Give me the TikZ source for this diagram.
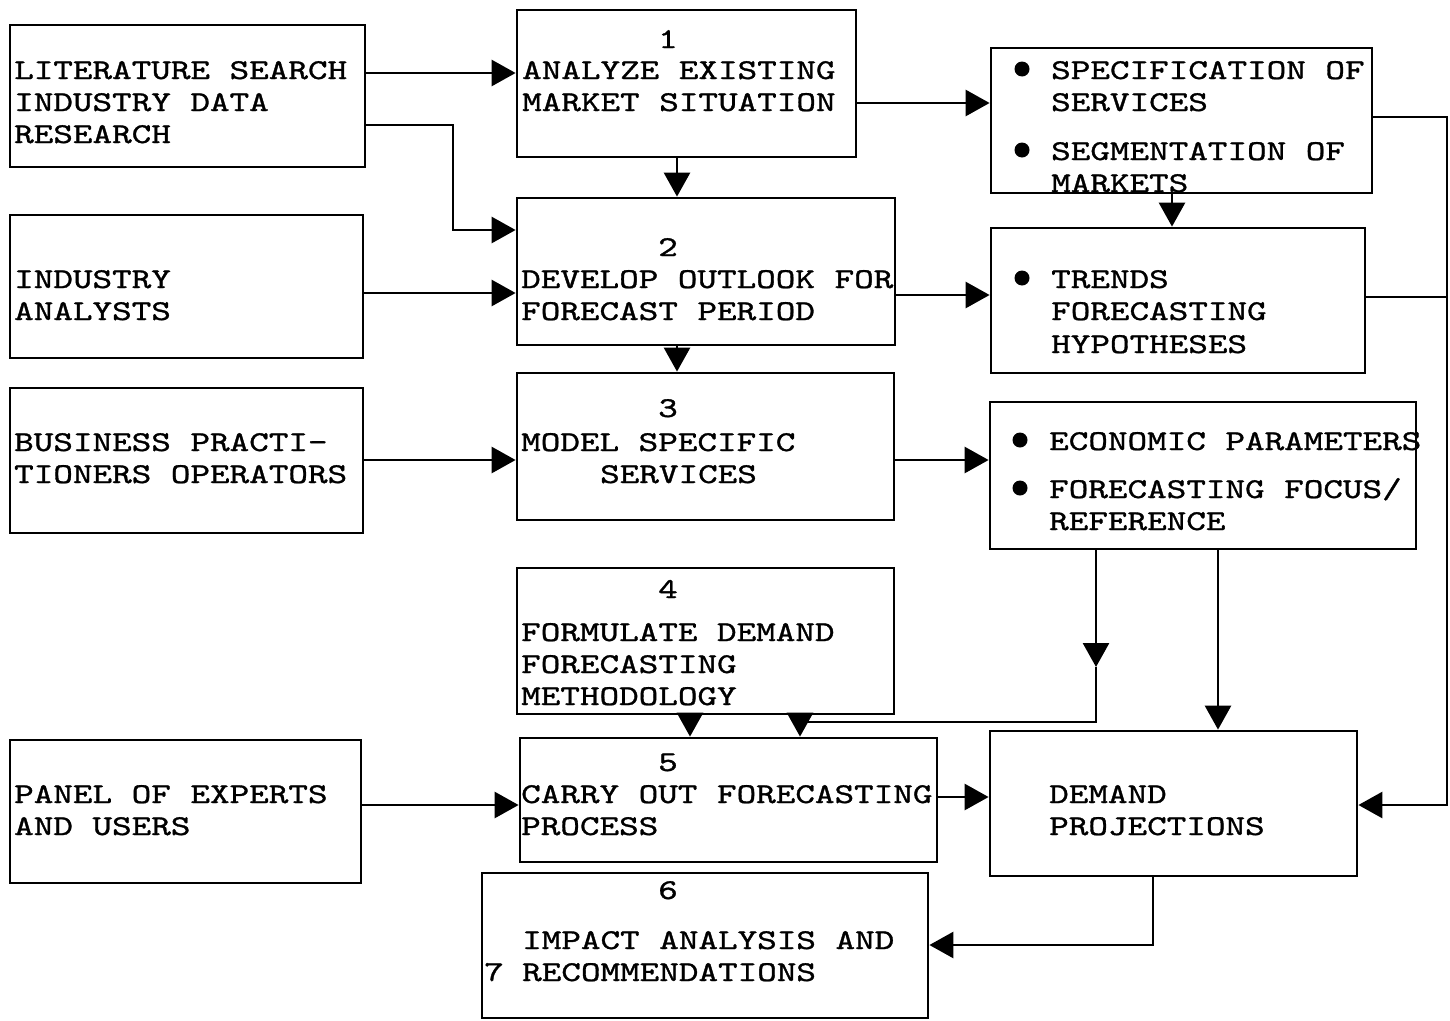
\documentclass[tikz,border=0pt]{standalone}
\usepackage{fontspec}
\newfontfamily\tw[FakeStretch=1.3,FakeBold=1.2]{lmmono10-regular.otf}
\usetikzlibrary{arrows.meta}
\begin{document}
\begin{tikzpicture}[x=1pt,y=-1pt,
  box/.style={draw,line width=2.8pt,inner sep=0pt,rectangle},
  txt/.style={inner sep=0pt,anchor=base west,font=\tw\fontsize{28.7}{32}\selectfont},
  num/.style={inner sep=0pt,anchor=base,font=\tw\fontsize{28.7}{32}\selectfont},
  conn/.style={line width=2.8pt},
  arr/.style={line width=2.8pt,-{Triangle[length=24pt,width=26pt]}},
  dotb/.style={fill=black}]
\useasboundingbox (0,0) rectangle (1450,1020);
% boxes
\node[box,minimum width=355pt,minimum height=142pt] (A) at (187.5,96) {};
\node[box,minimum width=353pt,minimum height=143pt] (B) at (186.5,286.5) {};
\node[box,minimum width=353pt,minimum height=145pt] (C) at (186.5,460.5) {};
\node[box,minimum width=351pt,minimum height=143pt] (D) at (185.5,811.5) {};
\node[box,minimum width=339pt,minimum height=147pt] (N1) at (686.5,83.5) {};
\node[box,minimum width=378pt,minimum height=147pt] (N2) at (706,271.5) {};
\node[box,minimum width=377pt,minimum height=147pt] (N3) at (705.5,446.5) {};
\node[box,minimum width=377pt,minimum height=146pt] (N4) at (705.5,641) {};
\node[box,minimum width=417pt,minimum height=124pt] (N5) at (728.5,800) {};
\node[box,minimum width=446pt,minimum height=145pt] (N6) at (705,945.5) {};
\node[box,minimum width=381pt,minimum height=145pt] (R1) at (1181.5,120.5) {};
\node[box,minimum width=374pt,minimum height=145pt] (R2) at (1178,300.5) {};
\node[box,minimum width=426pt,minimum height=147pt] (R3) at (1203,475.5) {};
\node[box,minimum width=367pt,minimum height=145pt] (DP) at (1173.5,803.5) {};
% texts
\node[txt] (a1) at (14,79) {LITERATURE SEARCH};
\node[txt] (a2) at (14,111) {INDUSTRY DATA};
\node[txt] (a3) at (14,143) {RESEARCH};
\node[txt] (b1) at (14,288) {INDUSTRY};
\node[txt] (b2) at (14,320) {ANALYSTS};
\node[txt] (c1) at (14,451) {BUSINESS PRACTI-};
\node[txt] (c2) at (14,483) {TIONERS OPERATORS};
\node[txt] (d1) at (14,803) {PANEL OF EXPERTS};
\node[txt] (d2) at (14,835) {AND USERS};
\node[num] (n1n) at (668,48) {1};
\node[txt] (n1a) at (522,79) {ANALYZE EXISTING};
\node[txt] (n1b) at (522,111) {MARKET SITUATION};
\node[num] (n2n) at (668,256) {2};
\node[txt] (n2a) at (521,288) {DEVELOP OUTLOOK FOR};
\node[txt] (n2b) at (521,320) {FORECAST PERIOD};
\node[num] (n3n) at (668,417) {3};
\node[txt] (n3a) at (521,451) {MODEL SPECIFIC};
\node[txt] (n3b) at (600,483) {SERVICES};
\node[num] (n4n) at (668,598) {4};
\node[txt] (n4a) at (521,641) {FORMULATE DEMAND};
\node[txt] (n4b) at (521,673) {FORECASTING};
\node[txt] (n4c) at (521,705) {METHODOLOGY};
\node[num] (n5n) at (668,771) {5};
\node[txt] (n5a) at (521,803) {CARRY OUT FORECASTING};
\node[txt] (n5b) at (521,835) {PROCESS};
\node[num] (n6n) at (668,899) {6};
\node[txt] (n6a) at (522,949) {IMPACT ANALYSIS AND};
\node[txt] (n6b) at (522,981) {RECOMMENDATIONS};
\node[txt] (n7) at (484,981) {7};
\fill[dotb] (1022,69) circle (7.5);
\fill[dotb] (1022,150) circle (7.5);
\node[txt] (r1a) at (1051,79) {SPECIFICATION OF};
\node[txt] (r1b) at (1051,111) {SERVICES};
\node[txt] (r1c) at (1051,160) {SEGMENTATION OF};
\node[txt] (r1d) at (1051,192) {MARKETS};
\fill[dotb] (1022,278) circle (7.5);
\node[txt] (r2a) at (1051,288) {TRENDS};
\node[txt] (r2b) at (1051,320) {FORECASTING};
\node[txt] (r2c) at (1051,353) {HYPOTHESES};
\fill[dotb] (1020,440) circle (7.5);
\fill[dotb] (1020,488) circle (7.5);
\node[txt] (r3a) at (1049,450) {ECONOMIC PARAMETERS};
\node[txt] (r3b) at (1049,498) {FORECASTING FOCUS/};
\node[txt] (r3c) at (1049,530) {REFERENCE};
\node[txt] (dpa) at (1049,803) {DEMAND};
\node[txt] (dpb) at (1049,835) {PROJECTIONS};
% connectors
\draw[arr] (A.east |- 0,73) -- (N1.west |- 0,73);
\draw[arr] (A.east |- 0,125) -| (453,230) -- (N2.west |- 0,230);
\draw[arr] (B.east |- 0,293) -- (N2.west |- 0,293);
\draw[arr] (C.east |- 0,460) -- (N3.west |- 0,460);
\draw[arr] (D.east |- 0,805) -- (N5.west |- 0,805);
\draw[arr] (N1.south -| 677,0) -- (N2.north -| 677,0);
\draw[arr] (N2.south -| 677,0) -- (N3.north -| 677,0);
\draw[arr] (N1.east |- 0,103) -- (R1.west |- 0,103);
\draw[arr] (N2.east |- 0,295) -- (R2.west |- 0,295);
\draw[arr] (N3.east |- 0,460) -- (R3.west |- 0,460);
\draw[arr] (R1.south -| 1172,0) -- (R2.north -| 1172,0);
\draw[arr] (N4.south -| 690,0) -- (N5.north -| 690,0);
\coordinate (mid) at (1096,667);
\draw[arr] (R3.south -| 1096,0) -- (mid);
\draw[arr] (mid) -- (1096,722) -| (N5.north -| 800,0);
\draw[arr] (R3.south -| 1218,0) -- (DP.north -| 1218,0);
\draw[arr] (N5.east |- 0,797) -- (DP.west |- 0,797);
\draw[arr] (R1.east |- 0,117) -| (1447,805) -- (DP.east |- 0,805);
\draw[conn] (R2.east |- 0,297) -- (1447,297);
\draw[arr] (DP.south -| 1153,0) |- (N6.east |- 0,945);
\end{tikzpicture}
\end{document}
